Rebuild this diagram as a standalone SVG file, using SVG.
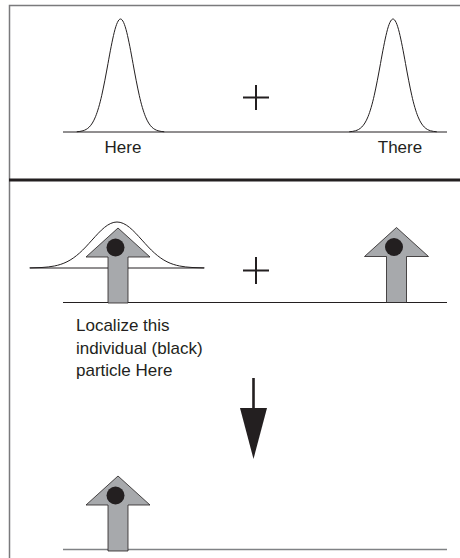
<svg xmlns="http://www.w3.org/2000/svg" xmlns:xlink="http://www.w3.org/1999/xlink" width="460" height="558" viewBox="0 0 460 558">
<style>
.frame{fill:none;stroke:#7a7a7c;stroke-width:1.5}
.divider{fill:none;stroke:#231f20;stroke-width:3}
.base{fill:none;stroke:#231f20;stroke-width:1}
.base-gray{fill:none;stroke:#808285;stroke-width:1.6}
.curve{fill:none;stroke:#231f20;stroke-width:1}
.plus{fill:none;stroke:#231f20;stroke-width:2}
.lbl{font-family:"Liberation Sans",Arial,sans-serif;font-size:17px;fill:#231f20}
.body{fill:#a7a9ac;stroke:#231f20;stroke-width:0.8;stroke-linejoin:miter}
.dot{fill:#231f20}
.conn{fill:none;stroke:#231f20;stroke-width:2.6}
.head{fill:#231f20}
</style>
<defs>
<path id="gauss-narrow" class="curve" d="M76.75,131.75 C78.83,131.6 80.92,131.38 83,130.75 C85.08,130.11 87.17,129.11 89.25,127.04 C91.33,124.97 93.42,121.81 95.5,116.71 C97.58,111.61 99.67,104.48 101.75,95.31 C103.83,86.13 105.92,74.89 108,63.47 C110.08,52.04 112.17,40.58 114.25,32.28 C116.33,23.97 118.42,19 120.5,19 C122.58,19 124.67,23.97 126.75,32.28 C128.83,40.58 130.92,52.04 133,63.47 C135.08,74.89 137.17,86.13 139.25,95.31 C141.33,104.48 143.42,111.61 145.5,116.71 C147.58,121.81 149.67,124.97 151.75,127.04 C153.83,129.11 155.92,130.11 158,130.75 C160.08,131.38 162.17,131.6 164.25,131.75"/>
<g id="spin">
<polygon class="body" points="0,0 32,29 10,29 10,75 -10,75 -10,29 -32,29"/>
<circle class="dot" cx="-2.5" cy="19.5" r="9"/>
</g>
</defs>
<rect width="460" height="558" fill="#ffffff"/>
<g id="frame">
<path class="frame" d="M9.5,558 V5.5 H460"/>
<line class="divider" x1="9" y1="180" x2="460" y2="180"/>
</g>
<g id="panel-top">
<g id="gauss-here">
<use xlink:href="#gauss-narrow" href="#gauss-narrow"/>
</g>
<g id="gauss-there">
<use xlink:href="#gauss-narrow" href="#gauss-narrow" transform="translate(272.5,0)"/>
</g>
<line class="base" x1="63" y1="132" x2="447" y2="132"/>
<g id="plus-top"><path class="plus" d="M243,97.5 H269 M256,85 V110"/></g>
<g id="label-here"><text class="lbl" x="123" y="153" text-anchor="middle">Here</text></g>
<g id="label-there"><text class="lbl" x="400" y="153" text-anchor="middle">There</text></g>
</g>
<g id="panel-middle">
<g id="gauss-local">
<path class="curve" d="M29.5,267.9 C33.67,267.84 37.83,267.75 42,267.49 C46.17,267.23 50.33,266.82 54.5,265.98 C58.67,265.14 62.83,263.85 67,261.78 C71.17,259.7 75.33,256.8 79.5,253.06 C83.67,249.33 87.83,244.75 92,240.1 C96.17,235.45 100.33,230.79 104.5,227.4 C108.67,224.02 112.83,222 117,222 C121.17,222 125.33,224.02 129.5,227.4 C133.67,230.79 137.83,235.45 142,240.1 C146.17,244.75 150.33,249.33 154.5,253.06 C158.67,256.8 162.83,259.7 167,261.78 C171.17,263.85 175.33,265.14 179.5,265.98 C183.67,266.82 187.83,267.23 192,267.49 C196.17,267.75 200.33,267.84 204.5,267.9"/>
</g>
<line class="base" x1="30" y1="268" x2="204" y2="268"/>
<line class="base" x1="63" y1="302.5" x2="447" y2="302.5"/>
<g id="particle-here"><use xlink:href="#spin" href="#spin" transform="translate(118,228)"/></g>
<g id="particle-there"><use xlink:href="#spin" href="#spin" transform="translate(396.5,227.5)"/></g>
<g id="plus-mid"><path class="plus" d="M243,270.5 H269 M256,257 V284"/></g>
<g id="label-localize">
<text class="lbl" x="76" y="331">Localize this</text>
<text class="lbl" x="76" y="353.5">individual (black)</text>
<text class="lbl" x="76" y="376">particle Here</text>
</g>
</g>
<g id="panel-bottom">
<line class="base-gray" x1="63" y1="549.5" x2="447" y2="549.5"/>
<g id="particle-result"><use xlink:href="#spin" href="#spin" transform="translate(118,476)"/></g>
</g>
<g id="connectors">
<line class="conn" x1="253.5" y1="378" x2="253.5" y2="410"/>
<polygon class="head" points="240,408 267,408 253.5,459"/>
</g>
</svg>
